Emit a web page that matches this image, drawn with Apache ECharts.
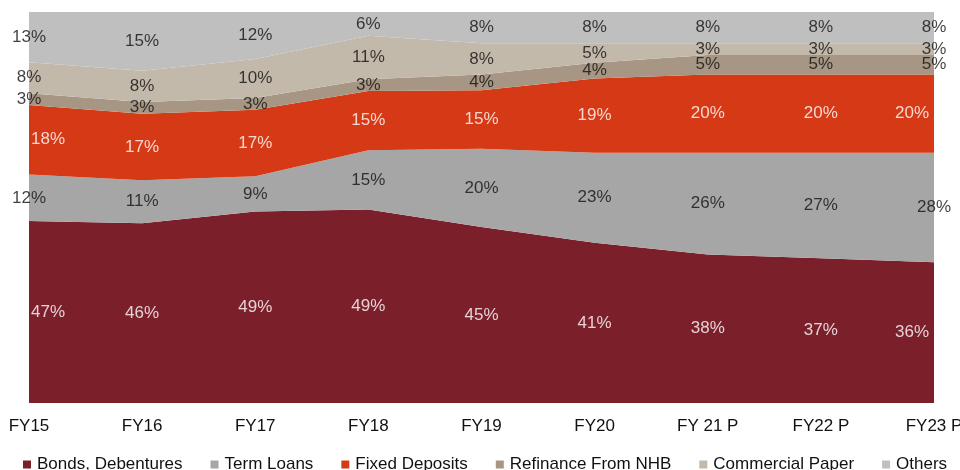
<!DOCTYPE html>
<html>
<head>
<meta charset="utf-8">
<script src="https://cdn.jsdelivr.net/npm/echarts@6/dist/echarts.min.js"></script>
<style>
  html, body { margin: 0; padding: 0; background: #fff; }
  #chart { width: 960px; height: 470px; }
</style>
</head>
<body>
<div id="chart"></div>
<script>
// categories and shares (%)
const categories = ['FY15', 'FY16', 'FY17', 'FY18', 'FY19', 'FY20', 'FY 21 P', 'FY22 P', 'FY23 P']
const bonds = [47, 46, 49, 49, 45, 41, 38, 37, 36]
const termLoans = [12, 11, 9, 15, 20, 23, 26, 27, 28]
const fixedDeposits = [18, 17, 17, 15, 15, 19, 20, 20, 20]
const refinanceNHB = [3, 3, 3, 3, 4, 4, 5, 5, 5]
const commercialPaper = [8, 8, 10, 11, 8, 5, 3, 3, 3]
const others = [13, 15, 12, 6, 8, 8, 8, 8, 8]

const seriesDefs = [
  { name: 'Bonds, Debentures', data: bonds, color: '#7B1F2B', text: '#fff', clamp: true },
  { name: 'Term Loans', data: termLoans, color: '#A6A6A6', text: '#111' },
  { name: 'Fixed Deposits', data: fixedDeposits, color: '#D53915', text: '#fff', clamp: true },
  { name: 'Refinance From NHB', data: refinanceNHB, color: '#A69683', text: '#111' },
  { name: 'Commercial Paper', data: commercialPaper, color: '#C3B9AB', text: '#111' },
  { name: 'Others', data: others, color: '#BFBFBF', text: '#111' }
]

const FONT = '"Liberation Sans", Arial, sans-serif'

// 100% stacked: normalise each column
const totals = categories.map((_, i) => seriesDefs.reduce((s, d) => s + d.data[i], 0))
const norm = seriesDefs.map(d => d.data.map((v, i) => v / totals[i] * 100))

const series = []
seriesDefs.forEach((d, k) => {
  series.push({
    name: d.name,
    type: 'line',
    stack: 'total',
    data: norm[k],
    symbol: 'none',
    lineStyle: { width: 0 },
    itemStyle: { color: d.color },
    areaStyle: { color: d.color, opacity: 1 },
    silent: true,
    z: 2
  })
})

// labels at the middle of each band
seriesDefs.forEach((d, k) => {
  const mids = categories.map((_, i) => {
    let below = 0
    for (let j = 0; j < k; j++) below += norm[j][i]
    return below + norm[k][i] / 2
  })
  series.push({
    name: d.name + '-label',
    type: 'scatter',
    data: mids.map((m, i) => {
      const item = { value: [i, m] }
      if (d.clamp && i === 0) item.label = { align: 'left', offset: [2, 0] }
      if (d.clamp && i === categories.length - 1) item.label = { align: 'right', offset: [-5, 0] }
      return item
    }),
    symbolSize: 0,
    itemStyle: { color: 'transparent' },
    silent: true,
    z: 5,
    label: {
      show: true,
      position: 'inside',
      color: d.text,
      fontFamily: FONT,
      fontSize: 17,
      formatter: p => d.data[p.dataIndex] + '%'
    }
  })
})

const chart = echarts.init(document.getElementById('chart'), null, { renderer: 'canvas' })
chart.setOption({
  animation: false,
  grid: { left: 29, right: 26, top: 12, bottom: 67, outerBoundsMode: 'none' },
  legend: {
    data: seriesDefs.map(d => d.name),
    bottom: -8,
    left: 18,
    icon: 'rect',
    itemWidth: 8,
    itemHeight: 8,
    itemGap: 28,
    textStyle: { fontFamily: FONT, fontSize: 17, color: '#111', padding: [0, 0, 0, 1] }
  },
  xAxis: {
    type: 'category',
    data: categories,
    boundaryGap: false,
    axisLine: { show: false },
    axisTick: { show: false },
    axisLabel: { fontFamily: FONT, fontSize: 17, color: '#111', margin: 15, interval: 0 }
  },
  yAxis: {
    type: 'value',
    min: 0,
    max: 100,
    show: false,
    splitLine: { show: false }
  },
  series: series
})
</script>
</body>
</html>
